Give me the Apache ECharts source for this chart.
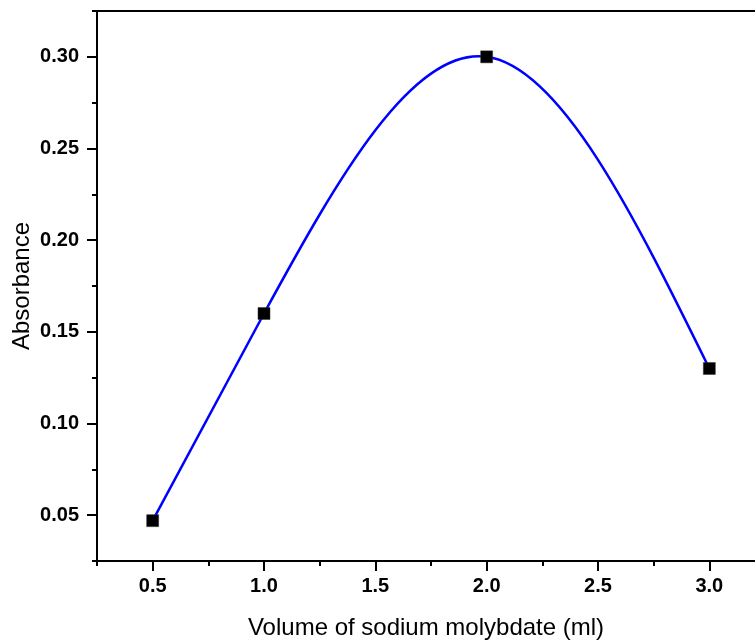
<!DOCTYPE html>
<html>
<head>
<meta charset="utf-8">
<script src="https://cdn.jsdelivr.net/npm/echarts@6/dist/echarts.min.js"></script>
<style>html,body{margin:0;padding:0;background:#fff;overflow:hidden;width:755px;height:641px;}#chart{width:775px;height:641px;}</style>
</head>
<body>
<div id="chart"></div>
<script>
// Data
const volumes = [0.5, 1.0, 2.0, 3.0];
const absorbance = [0.047, 0.16, 0.30, 0.13];
const xTickLabels = ['0.5', '1.0', '1.5', '2.0', '2.5', '3.0'];
const yTickLabels = ['0.05', '0.10', '0.15', '0.20', '0.25', '0.30'];
const xTitle = 'Volume of sodium molybdate (ml)';
const yTitle = 'Absorbance';

// Axis ranges
const xMin = 0.25, xMax = 3.25, xMajorMin = 0.5, xMajorMax = 3.0;
const yMin = 0.025, yMax = 0.325, yMajorMin = 0.05, yMajorMax = 0.30;

// Layout (pixels)
const gLeft = 97, gTop = 11, gWidth = 668, gHeight = 550;
const xMajLeft = gLeft + gWidth * (xMajorMin - xMin) / (xMax - xMin);
const xMajWidth = gWidth * (xMajorMax - xMajorMin) / (xMax - xMin);
const yMajTop = gTop + gHeight * (yMax - yMajorMax) / (yMax - yMin);
const yMajHeight = gHeight * (yMajorMax - yMajorMin) / (yMax - yMin);

const font = '"Liberation Sans", Arial, sans-serif';
const black = '#000';

// Natural cubic spline (as drawn by the original plotting software) through the data
function splineSecondDerivs(xs, ys) {
  const n = xs.length, M = new Array(n).fill(0);
  if (n < 3) return M;
  const a = [], b = [], c = [], d = [];
  for (let i = 1; i < n - 1; i++) {
    const h0 = xs[i] - xs[i - 1], h1 = xs[i + 1] - xs[i];
    a.push(h0); b.push(2 * (h0 + h1)); c.push(h1);
    d.push(6 * ((ys[i + 1] - ys[i]) / h1 - (ys[i] - ys[i - 1]) / h0));
  }
  const m = b.length;
  for (let i = 1; i < m; i++) {
    const w = a[i] / b[i - 1];
    b[i] -= w * c[i - 1]; d[i] -= w * d[i - 1];
  }
  const sol = new Array(m);
  sol[m - 1] = d[m - 1] / b[m - 1];
  for (let i = m - 2; i >= 0; i--) sol[i] = (d[i] - c[i] * sol[i + 1]) / b[i];
  for (let i = 0; i < m; i++) M[i + 1] = sol[i];
  return M;
}
const M2 = splineSecondDerivs(volumes, absorbance);

const chart = echarts.init(document.getElementById('chart'), null, {renderer: 'canvas'});
chart.setOption({
  backgroundColor: '#fff',
  animation: false,
  grid: [
    {left: gLeft, top: gTop, width: gWidth, height: gHeight, show: true, borderColor: black, borderWidth: 2, backgroundColor: 'transparent'},
    {left: gLeft, top: yMajTop, width: gWidth, height: yMajHeight},
    {left: xMajLeft, top: gTop, width: xMajWidth, height: gHeight}
  ],
  graphic: [{
    type: 'text', x: 426, y: 616, z: 10,
    style: {text: xTitle, textAlign: 'center', textVerticalAlign: 'top', fill: black,
      font: '24px "Liberation Sans", Arial, sans-serif'}
  }],
  xAxis: [
    {gridIndex: 0, type: 'value', min: xMin, max: xMax, interval: 0.25,
      axisLine: {show: true, onZero: false, lineStyle: {color: black, width: 2}},
      axisTick: {show: true, inside: false, length: 5, lineStyle: {color: black, width: 2}},
      axisLabel: {show: false}, splitLine: {show: false}},
    {gridIndex: 1, type: 'value', min: xMin, max: xMax, show: false},
    {gridIndex: 2, type: 'value', min: xMajorMin, max: xMajorMax, interval: 0.5,
      axisLine: {show: false, onZero: false},
      axisTick: {show: true, inside: false, length: 10, lineStyle: {color: black, width: 2}},
      axisLabel: {show: true, margin: 15, fontFamily: font, fontWeight: 'bold', fontSize: 20, color: black,
        formatter: function (v) { return xTickLabels[Math.round((v - xMajorMin) / 0.5)]; }},
      splitLine: {show: false}}
  ],
  yAxis: [
    {gridIndex: 0, type: 'value', min: yMin, max: yMax, interval: 0.025,
      axisLine: {show: true, onZero: false, lineStyle: {color: black, width: 2}},
      axisTick: {show: true, inside: false, length: 5, lineStyle: {color: black, width: 2}},
      axisLabel: {show: false}, splitLine: {show: false},
      name: yTitle, nameLocation: 'middle', nameGap: 63, nameRotate: 90,
      nameTextStyle: {fontFamily: font, fontSize: 24, color: black}},
    {gridIndex: 1, type: 'value', min: yMajorMin, max: yMajorMax, interval: 0.05,
      axisLine: {show: false, onZero: false},
      axisTick: {show: true, inside: false, length: 10, lineStyle: {color: black, width: 2}},
      axisLabel: {show: true, margin: 18, fontFamily: font, fontWeight: 'bold', fontSize: 20, color: black,
        formatter: function (v) { return yTickLabels[Math.round((v - yMajorMin) / 0.05)]; }},
      splitLine: {show: false}},
    {gridIndex: 2, type: 'value', min: yMin, max: yMax, show: false}
  ],
  series: [
    {
      type: 'custom',
      xAxisIndex: 0, yAxisIndex: 0,
      data: volumes.map((v, i) => [v, absorbance[i]]),
      encode: {x: 0, y: 1},
      z: 4,
      renderItem: function (params, api) {
        const i = params.dataIndex;
        if (i >= volumes.length - 1) return null;
        const x0 = volumes[i], x1 = volumes[i + 1], y0 = absorbance[i], y1 = absorbance[i + 1];
        const h = x1 - x0;
        const d0 = (y1 - y0) / h - h * (2 * M2[i] + M2[i + 1]) / 6;
        const d1 = (y1 - y0) / h + h * (M2[i] + 2 * M2[i + 1]) / 6;
        const p0 = api.coord([x0, y0]);
        const p1 = api.coord([x1, y1]);
        const c0 = api.coord([x0 + h / 3, y0 + d0 * h / 3]);
        const c1 = api.coord([x1 - h / 3, y1 - d1 * h / 3]);
        return {
          type: 'bezierCurve',
          shape: {x1: p0[0], y1: p0[1], x2: p1[0], y2: p1[1], cpx1: c0[0], cpy1: c0[1], cpx2: c1[0], cpy2: c1[1]},
          style: {stroke: '#0000ff', lineWidth: 2.5, fill: 'none'}
        };
      }
    },
    {
      type: 'scatter',
      xAxisIndex: 0, yAxisIndex: 0,
      data: volumes.map((v, i) => [v, absorbance[i]]),
      symbol: 'rect', symbolSize: 12,
      itemStyle: {color: black, borderColor: '#333', borderWidth: 0.5, opacity: 1},
      z: 6
    }
  ]
});
</script>
</body>
</html>
